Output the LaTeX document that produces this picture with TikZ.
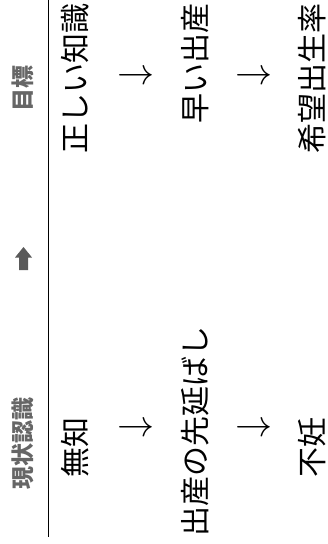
\documentclass[tikz,border=0pt]{standalone}
\usepackage{fontspec}
\newfontfamily\jp{Noto Sans CJK JP}
\definecolor{hdgray}{HTML}{666666}
\definecolor{argray}{HTML}{5A5A5A}
\tikzset{
  body/.style={font=\jp\fontsize{30}{30}\selectfont, inner sep=0pt, rotate=90, text=black},
  head/.style={font=\jp\bfseries\fontsize{23}{23}\selectfont, inner sep=0pt, rotate=90, text=hdgray},
  flow/.style={inner sep=0pt, text=black},
}
\newcommand{\flowarrow}{\scalebox{3.7}{$\rightarrow$}}
\begin{document}
\begin{tikzpicture}[x=1pt,y=-1pt]
\useasboundingbox (0,0) rectangle (327,544);
% headers
\node[head] (h1) at (23,443) {現状認識};
\node[head] (h2) at (23,88) {目標};
\fill[argray] (23.5,247) -- (32,257.5) -- (28,257.5) -- (28,270) -- (19,270) -- (19,257.5) -- (15,257.5) -- cycle;
% separator
\coordinate (lt) at (48,0);
\coordinate (lb) at (48,537);
\draw[line width=1pt] (lt) -- (lb);
% column 1
\node[body] (a1) at (75.5,447) {無知};
\node[body] (b1) at (75.5,78) {正しい知識};
\node[flow] (ar1) at (136,430) {\flowarrow};
\node[flow] (br1) at (136,78) {\flowarrow};
% column 2
\node[body] (a2) at (195,431.5) {出産の先延ばし};
\node[body] (b2) at (195,63) {早い出産};
\node[flow] (ar2) at (254,430) {\flowarrow};
\node[flow] (br2) at (254,78) {\flowarrow};
% column 3
\node[body] (a3) at (312,447) {不妊};
\node[body] (b3) at (312,78) {希望出生率};
\end{tikzpicture}
\end{document}
